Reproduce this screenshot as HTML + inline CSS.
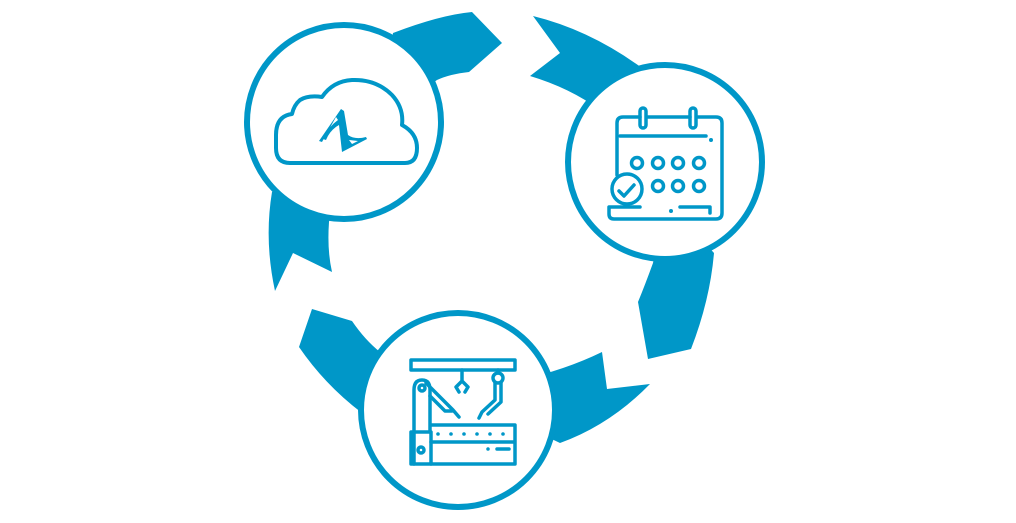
<!DOCTYPE html>
<html><head><meta charset="utf-8"><style>html,body{margin:0;padding:0;background:#fff;width:1016px;height:523px;overflow:hidden}</style></head>
<body>
<svg width="1016" height="523" viewBox="0 0 1016 523" xmlns="http://www.w3.org/2000/svg">
<g fill="#0097c8">
<path d="M393,33 Q440,15 472,12 L502,43 L469,72 Q450,74 437,80 L380,120 Z"/>
<path d="M533,16 Q590,30 642,68 L600,110 Q570,88 530,76 L560,53 Z"/>
<path d="M714,253 Q710,300 691,349 L648,359 L638,302 Q645,285 653,263 L665,200 Z"/>
<path d="M602,352 L607,389 L650,384 Q610,425 560,443 L470,400 L520,380 Q565,370 602,352 Z"/>
<path d="M312,309 L352,321 Q365,340 380,352 L440,400 L362,413 Q325,385 299,347 Z"/>
<path d="M272,192 Q264,240 275,291 L293,253 L332,272 Q327,250 329,222 L340,150 Z"/>
</g>
<g fill="#fff" stroke="#0097c8" stroke-width="6">
<circle cx="344" cy="122" r="97"/>
<circle cx="665" cy="162" r="97"/>
<circle cx="458" cy="410" r="97"/>
</g>
<!-- cloud -->
<g fill="none" stroke="#0097c8" stroke-width="4" stroke-linejoin="round">
<path d="M290,163 H405 Q417,163 417,148 Q417,133 402,125 Q404,108 392,95 Q376,79 352,80 Q333,81 322,97 Q308,95 300,100 Q294,105 292,114 Q276,116 276,135 V148 Q276,163 290,163 Z"/>
</g>
<path fill="#0097c8" d="M341,109 L344,111 L348,135 Q355,140 366,137 L367,139 L342,152 L339,125 Q330,130 326,140 L323,139 Q328,127 338,120 L336,117 L322,142 L319,141 Z M349,140 L352,144 L358,141 Z"/>
<!-- calendar -->
<g fill="none" stroke="#0097c8" stroke-width="3.5" stroke-linecap="round" stroke-linejoin="round">
<path d="M617,175 V123 Q617,117 623,117 H640 M648,117 H690 M698,117 H716 Q722,117 722,123 V213 Q722,219 716,219 H614 Q609,219 609,214 V207 H640"/>
<rect x="640" y="108" width="6" height="20" rx="3"/>
<rect x="690" y="108" width="6" height="20" rx="3"/>
<path d="M620,136 H706"/>
<path d="M680,207 H710 V213"/>
<circle cx="637" cy="163" r="5.5"/><circle cx="658" cy="163" r="5.5"/><circle cx="678" cy="163" r="5.5"/><circle cx="699" cy="163" r="5.5"/>
<circle cx="658" cy="186" r="5.5"/><circle cx="678" cy="186" r="5.5"/><circle cx="699" cy="186" r="5.5"/>
<circle cx="627" cy="189" r="15"/>
<path d="M619,191 L624,196 L634,185"/>
</g>
<circle cx="711" cy="140" r="2" fill="#0097c8"/><circle cx="671" cy="211" r="2" fill="#0097c8"/>
<!-- robot -->
<g fill="none" stroke="#0097c8" stroke-width="3.5" stroke-linecap="round" stroke-linejoin="round">
<rect x="411" y="360" width="104" height="10"/>
<path d="M414,464 V390 Q414,380 422,380 Q430,380 430,390 V432"/>
<circle cx="422" cy="388" r="3"/>
<rect x="411" y="432" width="20" height="32"/>
<circle cx="421" cy="450" r="3"/>
<path d="M431,425 H515 V464 H431 M431,442 H515"/>
<path d="M426,383 L453,410 L459,417"/>
<path d="M430,396 L445,411 L452,411"/>
<path d="M462,370 V381 L456,387 L459,392 M462,381 L468,387 L465,392"/>
<path d="M498,370 V373"/>
<circle cx="498" cy="378" r="5"/>
<path d="M495,383 V400 L482,412 L479,418 M501,383 V402 L488,414"/>
<path d="M488,449 H488 M497,449 H509"/>
</g>
<g fill="#0097c8"><circle cx="438" cy="434" r="1.8"/><circle cx="451" cy="434" r="1.8"/><circle cx="464" cy="434" r="1.8"/><circle cx="477" cy="434" r="1.8"/><circle cx="490" cy="434" r="1.8"/><circle cx="503" cy="434" r="1.8"/></g>
</svg>
</body></html>
